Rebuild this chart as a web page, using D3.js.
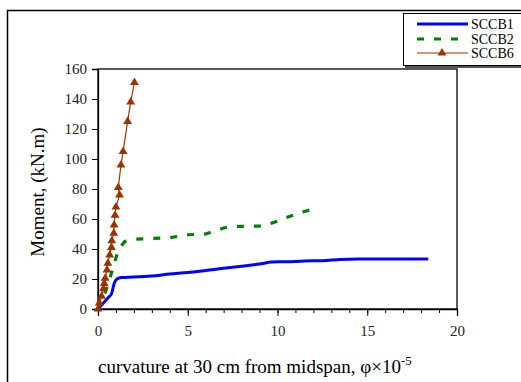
<!DOCTYPE html>
<html>
<head>
<meta charset="utf-8">
<script src="https://cdn.jsdelivr.net/npm/d3@7"></script>
<style>
  body { margin: 0; background: #fff; }
  svg text { font-family: "Liberation Serif", "Times New Roman", serif; }
</style>
</head>
<body>
<svg id="chart" width="521" height="382"></svg>
<script>
// curvature (x1e-5) and moment (kN.m)
const sccb1X = [0, 0.3, 0.6, 0.75, 0.9, 1.05, 1.3, 2, 3, 4, 5, 6, 7, 8, 9, 9.7, 10.5, 11.5, 12.5, 13.5, 14.5, 16, 18.4];
const sccb1Y = [0, 4, 8, 10, 17, 20, 21, 21.3, 22, 23.3, 24.3, 25.7, 27.2, 28.5, 30, 31.3, 31.5, 32, 32.2, 33, 33.3, 33.3, 33.3];

const sccb2X = [0, 0.15, 0.4, 0.6, 0.8, 1.0, 1.15, 1.5, 2, 3, 4, 5, 6, 6.5, 7, 7.5, 9, 9.5, 10, 10.5, 11, 11.5, 11.8, 11.8];
const sccb2Y = [0, 5, 11, 18, 26, 34, 40, 45, 46.5, 47, 47.5, 49.5, 50, 52, 54, 55, 55.3, 56.5, 58.5, 61, 63, 65, 66, 63];

const sccb6X = [0, 0.07, 0.2, 0.3, 0.35, 0.4, 0.5, 0.55, 0.65, 0.75, 0.77, 0.88, 0.9, 0.95, 1.0, 1.2, 1.13, 1.28, 1.4, 1.65, 1.82, 2.03];
const sccb6Y = [0, 4, 8.5, 13.5, 17, 20.5, 26, 30.5, 36, 41, 45.5, 50.5, 56, 62.5, 68, 76, 81, 96, 105, 125, 138, 151];

const seriesNames = ["SCCB1", "SCCB2", "SCCB6"];
const xTicks = [0, 5, 10, 15, 20];
const yTicks = [0, 20, 40, 60, 80, 100, 120, 140, 160];

const svg = d3.select("#chart");

// outer frame
svg.append("rect")
  .attr("x", 7.5).attr("y", 10.5)
  .attr("width", 540).attr("height", 400)
  .attr("fill", "none").attr("stroke", "#000").attr("stroke-width", 1.5);

const pLeft = 98, pRight = 457, pTop = 69, pBottom = 309;
const x = d3.scaleLinear().domain([0, 20]).range([pLeft, pRight]);
const y = d3.scaleLinear().domain([0, 160]).range([pBottom, pTop]);

// plot box
svg.append("rect")
  .attr("x", pLeft).attr("y", pTop)
  .attr("width", pRight - pLeft).attr("height", pBottom - pTop)
  .attr("fill", "none").attr("stroke", "#000").attr("stroke-width", 1.3);

// x axis: minor ticks
svg.append("g")
  .attr("transform", "translate(0," + pBottom + ")")
  .call(d3.axisBottom(x).ticks(20).tickSize(4).tickFormat(""))
  .call(g => g.select(".domain").remove());

const xAxis = svg.append("g")
  .attr("transform", "translate(0," + pBottom + ")")
  .call(d3.axisBottom(x).tickValues(xTicks).tickSize(7).tickPadding(9))
  .attr("font-family", null).attr("font-size", null);
xAxis.select(".domain").attr("stroke-width", 1.3);
xAxis.selectAll("text").style("font-size", "15px").attr("fill", "#222");

const yAxis = svg.append("g")
  .attr("transform", "translate(" + pLeft + ",0)")
  .call(d3.axisLeft(y).tickValues(yTicks).tickSize(6).tickPadding(5))
  .attr("font-family", null).attr("font-size", null);
yAxis.select(".domain").attr("stroke-width", 1.3);
yAxis.selectAll("text").style("font-size", "15px").attr("fill", "#222");

// axis titles
svg.append("text")
  .attr("transform", "translate(44,192) rotate(-90)")
  .attr("text-anchor", "middle")
  .style("font-size", "19px")
  .text("Moment, (kN.m)");

const xt = svg.append("text")
  .attr("x", 98).attr("y", 373)
  .style("font-size", "19px");
xt.append("tspan").text("curvature at 30 cm from midspan, φ×10");
xt.append("tspan").attr("dy", -8).style("font-size", "13px").text("-5");

const zip = (xs, ys) => xs.map((v, i) => [v, ys[i]]);
const line = d3.line().x(d => x(d[0])).y(d => y(d[1]));

const data1 = zip(sccb1X, sccb1Y);
const data2 = zip(sccb2X, sccb2Y);
const data6 = zip(sccb6X, sccb6Y);

svg.append("path").datum(data1)
  .attr("d", d3.line().x(d => x(d[0])).y(d => y(d[1])).curve(d3.curveMonotoneX))
  .attr("fill", "none").attr("stroke", "#0000ff").attr("stroke-width", 3);

svg.append("path").datum(data2)
  .attr("d", line)
  .attr("fill", "none").attr("stroke", "#008000").attr("stroke-width", 3.2)
  .attr("stroke-dasharray", "7,10");

svg.append("path").datum(data6)
  .attr("d", line)
  .attr("fill", "none").attr("stroke", "#993300").attr("stroke-width", 1.2);

const tri = d3.symbol().type(d3.symbolTriangle).size(34);
svg.append("g").selectAll("path")
  .data(data6)
  .enter().append("path")
  .attr("d", tri)
  .attr("transform", d => "translate(" + x(d[0]) + "," + y(d[1]) + ")")
  .attr("fill", "#993300");

// legend
const lg = svg.append("g");
lg.append("rect")
  .attr("x", 405).attr("y", 15).attr("width", 130).attr("height", 53)
  .attr("fill", "#555");
lg.append("rect")
  .attr("x", 403.5).attr("y", 13.5).attr("width", 130).attr("height", 52)
  .attr("fill", "#fff").attr("stroke", "#000").attr("stroke-width", 1);

const rows = [24, 39, 53];
const styles = [
  { color: "#0000ff", width: 3, dash: null },
  { color: "#008000", width: 3.2, dash: "7,10" },
  { color: "#993300", width: 1.2, dash: null }
];
seriesNames.forEach((name, i) => {
  const ly = rows[i];
  lg.append("line")
    .attr("x1", 417).attr("x2", 468).attr("y1", ly).attr("y2", ly)
    .attr("stroke", styles[i].color).attr("stroke-width", styles[i].width)
    .attr("stroke-dasharray", styles[i].dash);
  if (i === 2) {
    lg.append("path").attr("d", tri)
      .attr("transform", "translate(442," + ly + ")")
      .attr("fill", "#993300");
  }
  lg.append("text")
    .attr("x", 471).attr("y", ly + 5)
    .style("font-size", "14px")
    .text(name);
});
</script>
</body>
</html>
